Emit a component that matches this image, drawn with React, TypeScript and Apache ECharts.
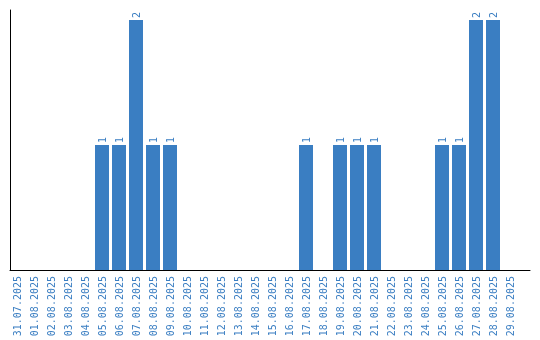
import React, { useEffect, useRef } from "react";
import * as echarts from "echarts";

const categories = [
  "31.07.2025", "01.08.2025", "02.08.2025", "03.08.2025", "04.08.2025",
  "05.08.2025", "06.08.2025", "07.08.2025", "08.08.2025", "09.08.2025",
  "10.08.2025", "11.08.2025", "12.08.2025", "13.08.2025", "14.08.2025",
  "15.08.2025", "16.08.2025", "17.08.2025", "18.08.2025", "19.08.2025",
  "20.08.2025", "21.08.2025", "22.08.2025", "23.08.2025", "24.08.2025",
  "25.08.2025", "26.08.2025", "27.08.2025", "28.08.2025", "29.08.2025",
];

const counts = [
  0, 0, 0, 0, 0,
  1, 1, 2, 1, 1,
  0, 0, 0, 0, 0,
  0, 0, 1, 0, 1,
  1, 1, 0, 0, 0,
  1, 1, 2, 2, 0,
];

const BLUE = "#3a7ec2";
const FONT = "DejaVu Sans Mono, monospace";

export default function App() {
  const ref = useRef<HTMLDivElement>(null);
  useEffect(() => {
    const chart = echarts.init(ref.current!, null, { renderer: "svg" });
    chart.setOption({
      animation: false,
      grid: [
        { left: 8.5, width: 510, top: 20, bottom: 70 },
        { left: 10, right: 10, top: 10, bottom: 70 },
      ],
      xAxis: [
        {
          type: "category",
          gridIndex: 0,
          data: categories,
          axisLine: { show: false },
          axisTick: { show: false },
          axisLabel: {
            interval: 0,
            rotate: 90,
            color: BLUE,
            fontSize: 10,
            fontFamily: FONT,
            margin: 6,
          },
        },
        {
          type: "value",
          gridIndex: 1,
          min: 0,
          max: 1,
          axisLine: { show: true, onZero: false, lineStyle: { color: "#000", width: 1 } },
          axisTick: { show: false },
          axisLabel: { show: false },
          splitLine: { show: false },
        },
      ],
      yAxis: [
        {
          type: "value",
          gridIndex: 0,
          min: 0,
          max: 2,
          show: false,
        },
        {
          type: "value",
          gridIndex: 1,
          min: 0,
          max: 1,
          axisLine: { show: true, lineStyle: { color: "#000", width: 1 } },
          axisTick: { show: false },
          axisLabel: { show: false },
          splitLine: { show: false },
        },
      ],
      series: [
        {
          type: "bar",
          xAxisIndex: 0,
          yAxisIndex: 0,
          data: counts,
          barWidth: 14,
          itemStyle: { color: BLUE },
          label: {
            show: true,
            position: "top",
            rotate: 90,
            align: "left",
            verticalAlign: "middle",
            distance: 2,
            color: BLUE,
            fontSize: 10,
            fontFamily: FONT,
            formatter: (p: any) => (p.value ? String(p.value) : ""),
          },
        },
      ],
    });
    return () => chart.dispose();
  }, []);
  return (
    <div
      ref={ref}
      style={{ position: "fixed", left: 0, top: 0, width: 540, height: 340 }}
    />
  );
}
